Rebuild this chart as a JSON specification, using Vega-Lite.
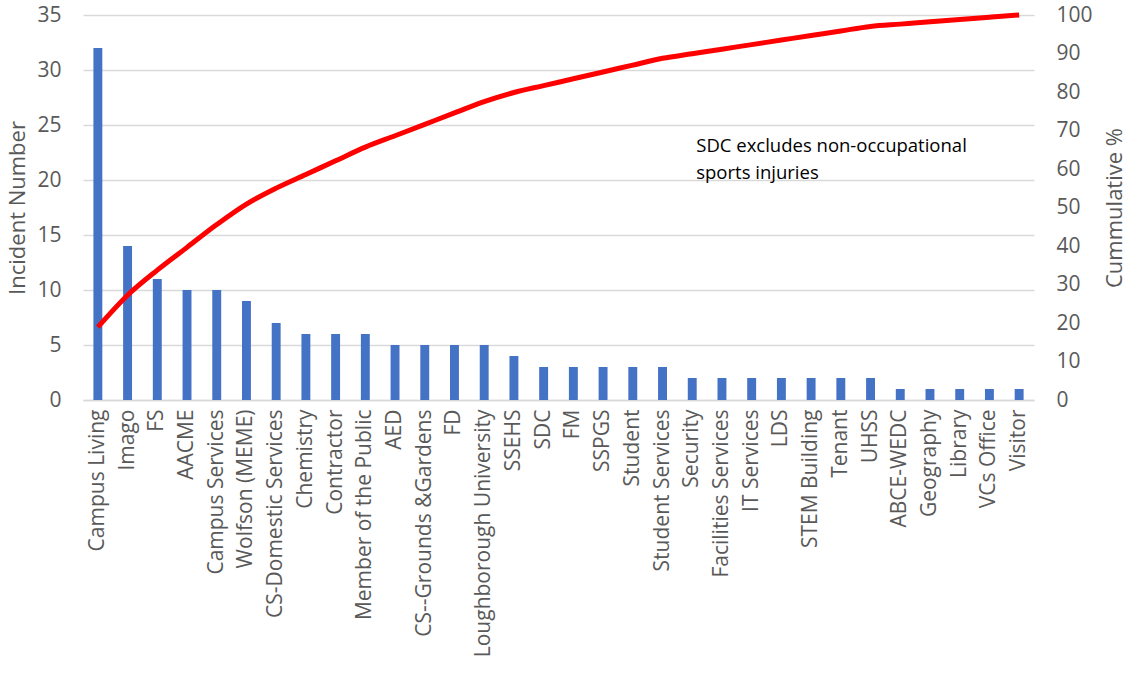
{
  "$schema": "https://vega.github.io/schema/vega-lite/v6.json",
  "width": 951,
  "height": 385,
  "autosize": "none",
  "padding": {"left": 83, "top": 15, "right": 95, "bottom": 274},
  "background": "white",
  "config": {
    "view": {"stroke": null},
    "font": "Open Sans",
    "axis": {"labelFont": "Open Sans", "titleFont": "Open Sans", "labelColor": "#595959", "titleColor": "#595959", "titleFontWeight": "normal"}
  },
  "data": {
    "values": [
      {"unit": "Campus Living", "incidents": 32, "cumulative": 18.93},
      {"unit": "Imago", "incidents": 14, "cumulative": 27.22},
      {"unit": "FS", "incidents": 11, "cumulative": 33.73},
      {"unit": "AACME", "incidents": 10, "cumulative": 39.64},
      {"unit": "Campus Services", "incidents": 10, "cumulative": 45.56},
      {"unit": "Wolfson (MEME)", "incidents": 9, "cumulative": 50.89},
      {"unit": "CS-Domestic Services", "incidents": 7, "cumulative": 55.03},
      {"unit": "Chemistry", "incidents": 6, "cumulative": 58.58},
      {"unit": "Contractor", "incidents": 6, "cumulative": 62.13},
      {"unit": "Member of the Public", "incidents": 6, "cumulative": 65.68},
      {"unit": "AED", "incidents": 5, "cumulative": 68.64},
      {"unit": "CS--Grounds &Gardens", "incidents": 5, "cumulative": 71.6},
      {"unit": "FD", "incidents": 5, "cumulative": 74.56},
      {"unit": "Loughborough University", "incidents": 5, "cumulative": 77.51},
      {"unit": "SSEHS", "incidents": 4, "cumulative": 79.88},
      {"unit": "SDC", "incidents": 3, "cumulative": 81.66},
      {"unit": "FM", "incidents": 3, "cumulative": 83.43},
      {"unit": "SSPGS", "incidents": 3, "cumulative": 85.21},
      {"unit": "Student", "incidents": 3, "cumulative": 86.98},
      {"unit": "Student Services", "incidents": 3, "cumulative": 88.76},
      {"unit": "Security", "incidents": 2, "cumulative": 89.94},
      {"unit": "Facilities Services", "incidents": 2, "cumulative": 91.12},
      {"unit": "IT Services", "incidents": 2, "cumulative": 92.31},
      {"unit": "LDS", "incidents": 2, "cumulative": 93.49},
      {"unit": "STEM Building", "incidents": 2, "cumulative": 94.67},
      {"unit": "Tenant", "incidents": 2, "cumulative": 95.86},
      {"unit": "UHSS", "incidents": 2, "cumulative": 97.04},
      {"unit": "ABCE-WEDC", "incidents": 1, "cumulative": 97.63},
      {"unit": "Geography", "incidents": 1, "cumulative": 98.22},
      {"unit": "Library", "incidents": 1, "cumulative": 98.82},
      {"unit": "VCs Office", "incidents": 1, "cumulative": 99.41},
      {"unit": "Visitor", "incidents": 1, "cumulative": 100}
    ]
  },
  "encoding": {
    "x": {
      "field": "unit",
      "type": "nominal",
      "sort": null,
      "scale": {"paddingInner": 0.7, "paddingOuter": 0.35},
      "axis": {
        "title": null,
        "labelAngle": -90,
        "labelFontSize": 21,
        "labelPadding": 9,
        "ticks": false,
        "domainColor": "#d9d9d9",
        "domainWidth": 1.5,
        "labelLimit": 300
      }
    }
  },
  "layer": [
    {
      "layer": [
        {
          "mark": {"type": "bar", "color": "#4472C4"},
          "encoding": {
            "y": {
              "field": "incidents",
              "type": "quantitative",
              "scale": {"domain": [0, 35], "nice": false},
              "axis": {
                "title": "Incident Number",
                "titleFontSize": 22,
                "titlePadding": 7,
                "labelFontSize": 21,
                "labelPadding": 22,
                "values": [0, 5, 10, 15, 20, 25, 30, 35],
                "grid": true,
                "gridColor": "#d9d9d9",
                "gridWidth": 1.5,
                "domain": false,
                "ticks": false
              }
            }
          }
        },
        {
          "data": {"values": [{"note": "SDC excludes non-occupational sports injuries"}]},
          "mark": {
            "type": "text",
            "align": "left",
            "baseline": "middle",
            "fontSize": 18.5,
            "color": "#000000",
            "dx": 4,
            "lineHeight": 27,
            "text": ["SDC excludes non-occupational", "sports injuries"]
          },
          "encoding": {
            "x": {"datum": "Security"},
            "y": {"datum": 23.1}
          }
        }
      ]
    },
    {
      "mark": {"type": "line", "color": "#ff0000", "strokeWidth": 5, "interpolate": "monotone"},
      "encoding": {
        "y": {
          "field": "cumulative",
          "type": "quantitative",
          "scale": {"domain": [0, 100], "nice": false},
          "axis": {
            "orient": "right",
            "title": "Cummulative %",
            "titleAngle": 270,
            "titleFontSize": 22,
            "titlePadding": 34,
            "labelFontSize": 21,
            "labelPadding": 22,
            "values": [0, 10, 20, 30, 40, 50, 60, 70, 80, 90, 100],
            "grid": false,
            "domain": false,
            "ticks": false
          }
        }
      }
    }
  ],
  "resolve": {"scale": {"y": "independent"}}
}
